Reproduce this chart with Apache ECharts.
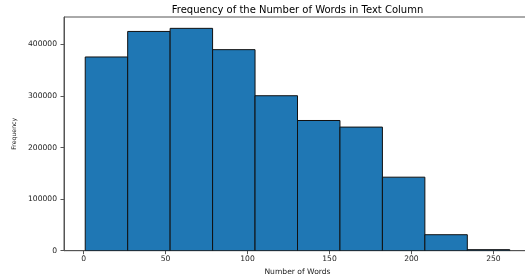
<!DOCTYPE html>
<html>
<head>
<meta charset="utf-8">
<script src="https://cdn.jsdelivr.net/npm/echarts@6/dist/echarts.min.js"></script>
<style>html,body{margin:0;padding:0;background:#fff}#c{width:525px;height:275px}</style>
</head>
<body>
<div id="c"></div>
<script>
var binEdges = [1, 26.9, 52.8, 78.7, 104.6, 130.5, 156.4, 182.3, 208.2, 234.1, 260];
var counts = [375500, 425000, 431000, 389700, 300400, 252400, 239600, 142500, 31000, 2000];
var xTicks = [0, 50, 100, 150, 200, 250];
var yTicks = [0, 100000, 200000, 300000, 400000];

var data = [];
for (var i = 0; i < counts.length; i++) {
  data.push([binEdges[i], binEdges[i + 1], counts[i]]);
}

var FONT = 'DejaVu Sans';
var chart = echarts.init(document.getElementById('c'), null, {renderer: 'canvas'});
chart.setOption({
  animation: false,
  title: {
    text: 'Frequency of the Number of Words in Text Column',
    left: 297.5, top: 5, padding: 0, textAlign: 'center',
    textStyle: {fontFamily: FONT, fontSize: 10, fontWeight: 'normal', color: '#000'}
  },
  grid: {left: 64, top: 17, width: 467, height: 233.7, show: true, borderColor: '#555', borderWidth: 1,
         backgroundColor: 'transparent', containLabel: false, outerBoundsMode: 'none'},
  xAxis: {
    type: 'value', min: -11.95, max: 272.95,
    name: 'Number of Words', nameLocation: 'middle', nameGap: 12.5,
    nameTextStyle: {fontFamily: FONT, fontSize: 7.6, color: '#222'},
    splitLine: {show: false},
    axisLine: {show: true, onZero: false, lineStyle: {color: '#555', width: 1}},
    axisTick: {show: true, inside: false, length: 3.5, lineStyle: {color: '#555'}, customValues: xTicks},
    axisLabel: {fontFamily: FONT, fontSize: 7.6, color: '#222', margin: 4, customValues: xTicks,
                formatter: function (v) { return String(v); }}
  },
  yAxis: {
    type: 'value', min: 0, max: 453000,
    name: 'Frequency', nameLocation: 'middle', nameGap: 40, nameRotate: 90,
    nameTextStyle: {fontFamily: FONT, fontSize: 6.2, color: '#222'},
    splitLine: {show: false},
    axisLine: {show: true, onZero: false, lineStyle: {color: '#555', width: 1}},
    axisTick: {show: true, inside: false, length: 3.5, lineStyle: {color: '#555'}, customValues: yTicks},
    axisLabel: {fontFamily: FONT, fontSize: 7.6, color: '#222', margin: 7, customValues: yTicks,
                formatter: function (v) { return String(v); }}
  },
  series: [{
    type: 'custom',
    data: data,
    encode: {x: [0, 1], y: 2},
    clip: true,
    renderItem: function (params, api) {
      var p0 = api.coord([api.value(0), api.value(2)]);
      var p1 = api.coord([api.value(1), 0]);
      return {
        type: 'rect',
        shape: {x: p0[0], y: p0[1], width: p1[0] - p0[0], height: p1[1] - p0[1]},
        style: {fill: '#1f77b4', stroke: '#111', lineWidth: 1}
      };
    }
  }]
});
</script>
</body>
</html>
